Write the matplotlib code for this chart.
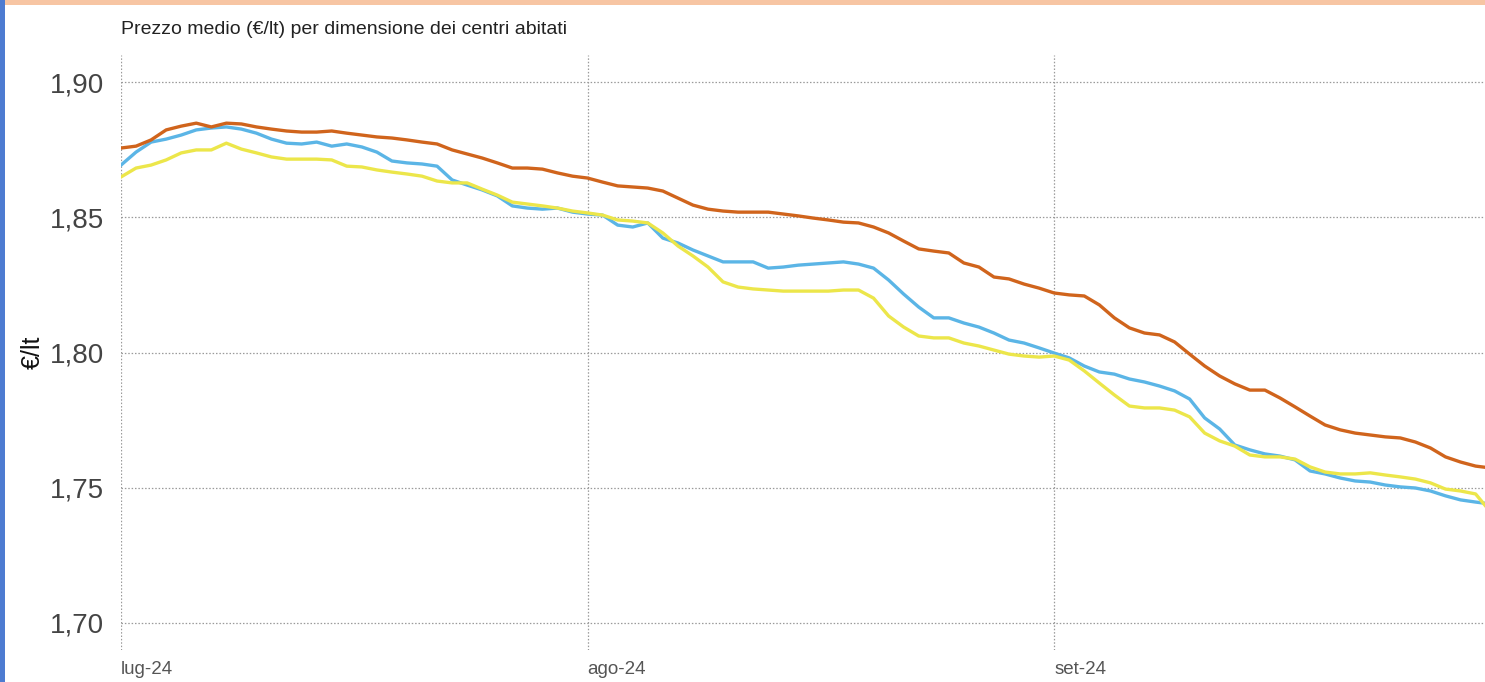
import matplotlib
matplotlib.use("Agg")
import matplotlib.pyplot as plt
import pandas as pd
import numpy as np

plt.rcParams['font.family'] = ['Liberation Sans', 'DejaVu Sans']

dates = pd.date_range("2024-07-01", "2024-09-30", freq="D")

orange = [
    1.8756, 1.8763, 1.8786, 1.8823, 1.8837, 1.8848, 1.8834, 1.8848, 1.8845, 1.8834,
    1.8826, 1.8819, 1.8815, 1.8815, 1.8819, 1.8811, 1.8804, 1.8797, 1.8793, 1.8786,
    1.8778, 1.8771, 1.8749, 1.8734, 1.8719, 1.8701, 1.8682, 1.8682, 1.8678, 1.8664,
    1.8652,
    1.8645, 1.8630, 1.8616, 1.8612, 1.8608, 1.8597, 1.8571, 1.8545, 1.8530, 1.8523,
    1.8519, 1.8519, 1.8519, 1.8512, 1.8505, 1.8497, 1.8490, 1.8482, 1.8479, 1.8464,
    1.8442, 1.8412, 1.8383, 1.8375, 1.8368, 1.8331, 1.8316, 1.8279, 1.8272, 1.8253,
    1.8238,
    1.8220, 1.8213, 1.8209, 1.8176, 1.8128, 1.8091, 1.8072, 1.8065, 1.8039, 1.7994,
    1.7950, 1.7913, 1.7884, 1.7861, 1.7861, 1.7832, 1.7799, 1.7765, 1.7732, 1.7714,
    1.7702, 1.7695, 1.7688, 1.7684, 1.7669, 1.7647, 1.7614, 1.7595, 1.7580, 1.7573,
]

blue = [
    1.8693, 1.8741, 1.8778, 1.8789, 1.8804, 1.8823, 1.8830, 1.8834, 1.8826, 1.8811,
    1.8789, 1.8774, 1.8771, 1.8778, 1.8763, 1.8771, 1.8760, 1.8741, 1.8708, 1.8701,
    1.8697, 1.8689, 1.8638, 1.8619, 1.8601, 1.8579, 1.8542, 1.8534, 1.8530, 1.8534,
    1.8519,
    1.8512, 1.8508, 1.8471, 1.8464, 1.8479, 1.8423, 1.8405, 1.8379, 1.8357, 1.8335,
    1.8335, 1.8335, 1.8312, 1.8316, 1.8323, 1.8327, 1.8331, 1.8335, 1.8327, 1.8312,
    1.8268, 1.8216, 1.8168, 1.8128, 1.8128, 1.8109, 1.8094, 1.8072, 1.8046, 1.8035,
    1.8017,
    1.7998, 1.7980, 1.7950, 1.7928, 1.7920, 1.7902, 1.7891, 1.7876, 1.7858, 1.7828,
    1.7758, 1.7717, 1.7658, 1.7640, 1.7625, 1.7617, 1.7603, 1.7562, 1.7551, 1.7536,
    1.7525, 1.7521, 1.7510, 1.7503, 1.7499, 1.7488, 1.7470, 1.7455, 1.7447, 1.7440,
]

yellow = [
    1.8649, 1.8682, 1.8693, 1.8712, 1.8738, 1.8749, 1.8749, 1.8774, 1.8752, 1.8738,
    1.8723, 1.8715, 1.8715, 1.8715, 1.8712, 1.8689, 1.8686, 1.8675, 1.8667, 1.8660,
    1.8652, 1.8634, 1.8627, 1.8627, 1.8604, 1.8582, 1.8556, 1.8549, 1.8542, 1.8534,
    1.8523,
    1.8516, 1.8508, 1.8490, 1.8486, 1.8479, 1.8442, 1.8394, 1.8357, 1.8316, 1.8261,
    1.8242, 1.8235, 1.8231, 1.8227, 1.8227, 1.8227, 1.8227, 1.8231, 1.8231, 1.8201,
    1.8135, 1.8094, 1.8061, 1.8054, 1.8054, 1.8035, 1.8024, 1.8009, 1.7994, 1.7987,
    1.7983,
    1.7987, 1.7972, 1.7932, 1.7887, 1.7843, 1.7802, 1.7795, 1.7795, 1.7787, 1.7762,
    1.7702, 1.7673, 1.7654, 1.7621, 1.7614, 1.7614, 1.7606, 1.7577, 1.7558, 1.7551,
    1.7551, 1.7555, 1.7547, 1.7540, 1.7532, 1.7518, 1.7495, 1.7488, 1.7477, 1.7410,
]

month_ticks = ["2024-07-01", "2024-08-01", "2024-09-01"]
month_labels = ["lug-24", "ago-24", "set-24"]
y_ticks = [1.70, 1.75, 1.80, 1.85, 1.90]

fig = plt.figure(figsize=(14.85, 6.82), dpi=100)
fig.patch.set_facecolor("white")

# decorative frame bands
fig.add_artist(plt.Rectangle((0, 1 - 5/682), 1, 5/682, transform=fig.transFigure,
                             color="#f7c5a3", lw=0, zorder=0))
fig.add_artist(plt.Rectangle((0, 0), 5/1485, 1, transform=fig.transFigure,
                             color="#4d7bd1", lw=0, zorder=1))

ax = fig.add_axes([121/1485, 1 - 650/682, 1 - 121/1485, (650 - 55)/682])

ax.plot(dates, blue, color="#5bb5e6", lw=2.4, zorder=3)
ax.plot(dates, orange, color="#d0641c", lw=2.4, zorder=4)
ax.plot(dates, yellow, color="#ece64a", lw=2.4, zorder=5)

ax.set_ylim(1.69, 1.91)
ax.set_xlim(pd.Timestamp("2024-07-01"), pd.Timestamp("2024-09-29 15:00"))

ax.set_yticks(y_ticks)
ax.set_yticklabels([f"{v:.2f}".replace(".", ",") for v in y_ticks],
                   fontsize=20, color="#444444")
ax.set_xticks(pd.to_datetime(month_ticks))
ax.set_xticklabels(month_labels, fontsize=13.5, color="#555555", ha="left")

ax.tick_params(axis="y", length=0, pad=12)
ax.tick_params(axis="x", length=0, pad=8)

for s in ax.spines.values():
    s.set_visible(False)

ax.grid(True, which="major", axis="both", color="#9a9a9a", linestyle=(0, (1.2, 1.5)),
        linewidth=0.9)
ax.set_axisbelow(True)

ax.set_ylabel("€/lt", fontsize=18, color="#111111")
ax.yaxis.set_label_coords(-76/1364, 0.5)

fig.text(121/1485, 1 - 29/682, "Prezzo medio (€/lt) per dimensione dei centri abitati",
         fontsize=14, color="#222222", ha="left", va="center")

fig.savefig("out.png", dpi=100)
